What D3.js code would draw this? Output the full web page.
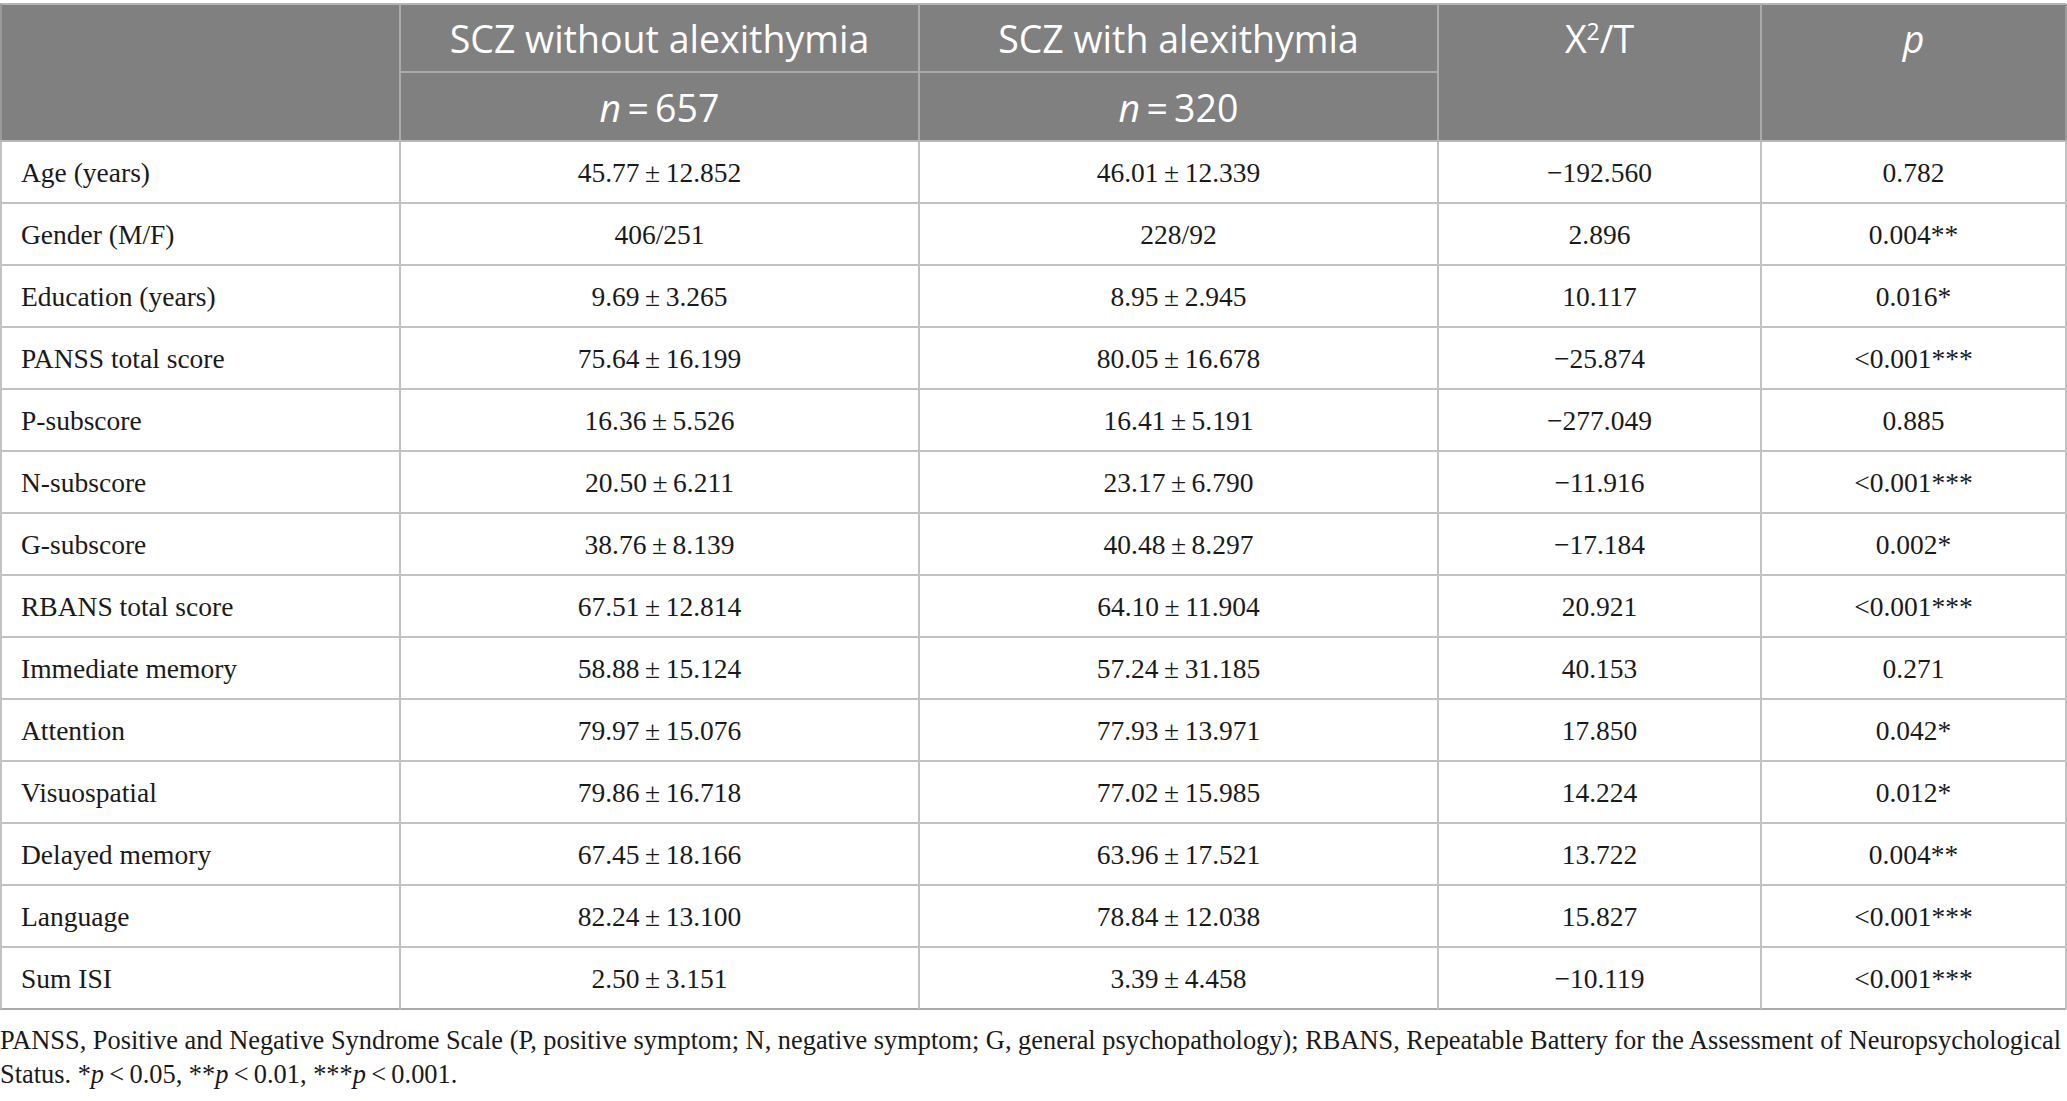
<!DOCTYPE html>
<html>
<head>
<meta charset="utf-8">
<script src="https://cdn.jsdelivr.net/npm/d3@7"></script>
<style>
  html, body { margin: 0; padding: 0; background: #fff; }
  svg { display: block; }
</style>
</head>
<body>
<div id="table"></div>
<script>
// table content
const groups = ["SCZ without alexithymia", "SCZ with alexithymia"];
const groupN = ["657", "320"];
const rowLabels = ["Age (years)", "Gender (M/F)", "Education (years)", "PANSS total score",
  "P-subscore", "N-subscore", "G-subscore", "RBANS total score", "Immediate memory",
  "Attention", "Visuospatial", "Delayed memory", "Language", "Sum ISI"];
const withoutAlex = ["45.77 ± 12.852", "406/251", "9.69 ± 3.265", "75.64 ± 16.199",
  "16.36 ± 5.526", "20.50 ± 6.211", "38.76 ± 8.139", "67.51 ± 12.814", "58.88 ± 15.124",
  "79.97 ± 15.076", "79.86 ± 16.718", "67.45 ± 18.166", "82.24 ± 13.100", "2.50 ± 3.151"];
const withAlex = ["46.01 ± 12.339", "228/92", "8.95 ± 2.945", "80.05 ± 16.678",
  "16.41 ± 5.191", "23.17 ± 6.790", "40.48 ± 8.297", "64.10 ± 11.904", "57.24 ± 31.185",
  "77.93 ± 13.971", "77.02 ± 15.985", "63.96 ± 17.521", "78.84 ± 12.038", "3.39 ± 4.458"];
const chiT = ["−192.560", "2.896", "10.117", "−25.874", "−277.049", "−11.916", "−17.184",
  "20.921", "40.153", "17.850", "14.224", "13.722", "15.827", "−10.119"];
const pValues = ["0.782", "0.004**", "0.016*", "<0.001***", "0.885", "<0.001***", "0.002*",
  "<0.001***", "0.271", "0.042*", "0.012*", "0.004**", "<0.001***", "<0.001***"];
const footnote = [
  "PANSS, Positive and Negative Syndrome Scale (P, positive symptom; N, negative symptom; G, general psychopathology); RBANS, Repeatable Battery for the Assessment of Neuropsychological",
  "Status. *p < 0.05, **p < 0.01, ***p < 0.001."
];

const w = 2067;
const h = 1101;
const colEdges = [0, 400, 919, 1438, 1761, 2066];
const headTop = 4, headMid = 72, headBottom = 141, bodyBottom = 1009;

const headFont = "'Open Sans', Lato, sans-serif";
const bodyFont = "'Liberation Serif', 'DejaVu Serif', serif";

const svg = d3.select("#table")
  .append("svg")
  .attr("width", w)
  .attr("height", h)
  .attr("viewBox", "0 0 " + w + " " + h);

const y = d3.scaleBand()
  .domain(rowLabels)
  .range([headBottom, bodyBottom]);

const x = d3.scaleOrdinal()
  .domain(["label", "without", "with", "chi", "p"])
  .range(colEdges.slice(0, 5));
const colWidth = k => {
  const i = x.domain().indexOf(k);
  return colEdges[i + 1] - colEdges[i];
};
const colCenter = k => x(k) + colWidth(k) / 2;

// header block
svg.append("rect")
  .attr("x", 0).attr("y", headTop)
  .attr("width", colEdges[5]).attr("height", headBottom - headTop)
  .attr("fill", "#7f807f");

const headLine = "#a9aaa9";
const gridLine = "#c2c2c2";

// header lines
svg.append("line")
  .attr("x1", 0).attr("x2", colEdges[5])
  .attr("y1", headTop).attr("y2", headTop)
  .attr("stroke", "#b5b5b5").attr("stroke-width", 2);
svg.append("line")
  .attr("x1", x("without")).attr("x2", x("chi"))
  .attr("y1", headMid).attr("y2", headMid)
  .attr("stroke", headLine).attr("stroke-width", 2);
["without", "with", "chi", "p"].forEach(k => {
  svg.append("line")
    .attr("x1", x(k)).attr("x2", x(k))
    .attr("y1", headTop).attr("y2", headBottom)
    .attr("stroke", headLine).attr("stroke-width", 2);
});

// header text
const head = svg.append("g")
  .attr("font-family", headFont)
  .attr("font-size", 37.5)
  .attr("fill", "#fff")
  .attr("text-anchor", "middle");

head.selectAll(".grp")
  .data(groups)
  .join("text")
  .attr("class", "grp")
  .attr("x", (d, i) => colCenter(i === 0 ? "without" : "with"))
  .attr("y", 53)
  .text(d => d);

head.selectAll(".n")
  .data(groupN)
  .join("text")
  .attr("class", "n")
  .attr("x", (d, i) => colCenter(i === 0 ? "without" : "with"))
  .attr("y", 122)
  .each(function(d) {
    const t = d3.select(this);
    t.append("tspan").attr("font-style", "italic").text("n");
    t.append("tspan").text("\u2009=\u2009" + d);
  });

const chiHead = head.append("text")
  .attr("x", colCenter("chi"))
  .attr("y", 53);
chiHead.append("tspan").text("X");
chiHead.append("tspan").attr("font-size", 23).attr("dy", -13).text("2");
chiHead.append("tspan").attr("dy", 13).text("/T");

head.append("text")
  .attr("x", colCenter("p"))
  .attr("y", 53)
  .attr("font-style", "italic")
  .text("p");

// body grid
const body = svg.append("g");
body.selectAll(".hline")
  .data(rowLabels.slice(0, -1))
  .join("line")
  .attr("class", "hline")
  .attr("x1", 0).attr("x2", colEdges[5])
  .attr("y1", d => y(d) + y.bandwidth())
  .attr("y2", d => y(d) + y.bandwidth())
  .attr("stroke", gridLine).attr("stroke-width", 2);

body.append("line")
  .attr("x1", 0).attr("x2", colEdges[5])
  .attr("y1", bodyBottom).attr("y2", bodyBottom)
  .attr("stroke", "#aaaaaa").attr("stroke-width", 2);

colEdges.forEach(cx => {
  body.append("line")
    .attr("x1", Math.max(cx, 1)).attr("x2", Math.max(cx, 1))
    .attr("y1", headBottom).attr("y2", bodyBottom)
    .attr("stroke", gridLine).attr("stroke-width", 2);
});
// outer edges of the header too
[1, colEdges[5]].forEach(cx => {
  svg.append("line")
    .attr("x1", cx).attr("x2", cx)
    .attr("y1", headTop).attr("y2", headBottom)
    .attr("stroke", "#9a9a9a").attr("stroke-width", 2);
});

// header bottom line
svg.append("line")
  .attr("x1", 0).attr("x2", colEdges[5])
  .attr("y1", headBottom).attr("y2", headBottom)
  .attr("stroke", "#b8b8b8").attr("stroke-width", 2);

// body text
const rows = rowLabels.map((d, i) => ({
  label: d, without: withoutAlex[i], with: withAlex[i], chi: chiT[i], p: pValues[i]
}));

const cells = body.append("g")
  .attr("font-family", bodyFont)
  .attr("font-size", 27.5)
  .attr("fill", "#1a1a1a");

const rowG = cells.selectAll(".row")
  .data(rows)
  .join("g")
  .attr("class", "row")
  .attr("transform", d => "translate(0," + (y(d.label) + y.bandwidth() / 2 + 10) + ")");

rowG.append("text")
  .attr("x", 21)
  .text(d => d.label);

["without", "with", "chi"].forEach(k => {
  rowG.append("text")
    .attr("x", colCenter(k))
    .attr("text-anchor", "middle")
    .text(d => d[k].replace(" ± ", "\u2009±\u2009"));
});

rowG.append("text")
  .attr("x", colCenter("p"))
  .attr("text-anchor", "middle")
  .text(d => d.p);

// footnote
const note = svg.append("g")
  .attr("font-family", bodyFont)
  .attr("font-size", 27)
  .attr("fill", "#1a1a1a");

note.append("text")
  .attr("class", "fn1")
  .attr("x", 0)
  .attr("y", 1049)
  .text(footnote[0]);

const fn2 = note.append("text")
  .attr("x", 0)
  .attr("y", 1083);
footnote[1].split(/(p)/).forEach(part => {
  if (part === "p") fn2.append("tspan").attr("font-style", "italic").text("p");
  else fn2.append("tspan").text(part.replace(/ < /g, "\u2009<\u2009"));
});

// fit the long footnote line to the table width
const fn1Len = note.select(".fn1").node().getComputedTextLength();
const fs = 27 * 2063 / fn1Len;
note.attr("font-size", fs);
</script>
</body>
</html>
